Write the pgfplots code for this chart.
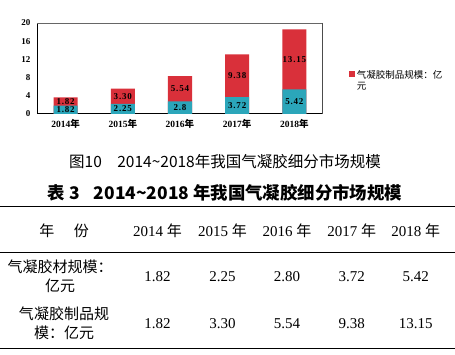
\documentclass[border=0pt]{standalone}
\usepackage{fontspec}
\setmainfont{Liberation Serif}
\newfontfamily\cjk{Noto Sans CJK SC}
\newfontfamily\lblfont[LetterSpace=9]{Liberation Serif}
\usepackage{pgfplots}
\usepackage{pgfplotstable}
\pgfplotsset{compat=1.18}
\definecolor{teal1}{HTML}{2BA6BA}
\definecolor{red1}{HTML}{D9303A}
% x, material, product, total (material+product)
\pgfplotstableread{
x mat prod total
0 1.82 1.82 3.64
1 2.25 3.30 5.55
2 2.80 5.54 8.34
3 3.72 9.38 13.10
4 5.42 13.15 18.57
}\data
\pgfplotstableread{
x y l
0 0.91 1.82
1 1.125 2.25
2 1.40 2.8
3 1.86 3.72
4 2.71 5.42
}\matlab
\pgfplotstableread{
x y l
0 2.73 1.82
1 3.90 3.30
2 5.57 5.54
3 8.41 9.38
4 11.995 13.15
}\prodlab
\begin{document}
\begin{tikzpicture}
\useasboundingbox (0,0) rectangle (455pt,355pt);
\begin{axis}[
  at={(37pt,241pt)}, anchor=south west,
  scale only axis, width=286pt, height=91pt,
  xmin=-0.5, xmax=4.5, ymin=0, ymax=20,
  axis x line=bottom, axis y line=left,
  xtick={0,1,2,3,4},
  xticklabels={2014{\cjk 年},2015{\cjk 年},2016{\cjk 年},2017{\cjk 年},2018{\cjk 年}},
  ytick={0,4,8,12,16,20},
  major tick length=0pt,
  /pgf/number format/assume math mode=true,
  tick label style={font=\fontsize{9}{10}\selectfont\bfseries},
  xticklabel style={yshift=-2pt, font=\fontsize{9.5}{10}\selectfont\bfseries},
  yticklabel style={xshift=-3pt},
  axis line style={-, black, line width=1pt},
  after end axis/.code={
    \draw[black!60, line width=0.6pt] (rel axis cs:0,1) -- (rel axis cs:1,1);
    \draw[black!70, line width=1pt] (rel axis cs:1,1) -- (rel axis cs:1,0);
  },
  legend style={draw=none, fill=none, at={(1.09,0.50)}, anchor=north west, font=\cjk\fontsize{9.5}{11}\selectfont, inner sep=0pt},
  legend image code/.code={\fill[red1] (0pt,-2pt) rectangle (6pt,4pt);},
]
\addplot[ybar, bar width=24pt, bar shift=0pt, fill=red1, draw=none] table[x=x, y=total] {\data};
\addlegendentry{\parbox[t]{95pt}{气凝胶制品规模：亿\\元}}
\addplot[ybar, bar width=24pt, bar shift=0pt, fill=teal1, draw=none, forget plot] table[x=x, y=mat] {\data};
\addplot[only marks, mark=none, forget plot, point meta=explicit symbolic, nodes near coords,
  every node near coord/.style={anchor=center, font=\lblfont\fontsize{9}{10}\selectfont\bfseries, text=black, inner sep=0pt}]
  table[x=x, y=y, meta=l] {\matlab};
\addplot[only marks, mark=none, forget plot, point meta=explicit symbolic, nodes near coords,
  every node near coord/.style={anchor=center, font=\lblfont\fontsize{9}{10}\selectfont\bfseries, text=black, inner sep=0pt}]
  table[x=x, y=y, meta=l] {\prodlab};
\end{axis}
% caption
\node[font=\cjk\fontsize{15.5}{17}\selectfont, anchor=center] at (225pt,193.3pt) {图10\hspace{1em}2014\char"7E 2018年我国气凝胶细分市场规模};
% table title
\node[font=\cjk\bfseries\fontsize{17.4}{19}\selectfont, anchor=center] at (225pt,161.7pt) {表 3\hspace{0.8em}2014\char"7E 2018 年我国气凝胶细分市场规模};
% rules
\draw[line width=1.3pt] (0pt,148.3pt) -- (455pt,148.3pt);
\draw[line width=0.7pt] (0pt,102.7pt) -- (455pt,102.7pt);
\draw[line width=1.3pt] (0pt,6.7pt) -- (455pt,6.7pt);
% table body
\begin{scope}[every node/.style={font=\fontsize{15}{19}\selectfont, anchor=center, inner sep=0pt}]
\node at (64pt,124.3pt) {\cjk 年\hspace{1.3em}份};
\node at (157.5pt,124.3pt) {2014 {\cjk 年}};
\node at (222.5pt,124.3pt) {2015 {\cjk 年}};
\node at (287pt,124.3pt) {2016 {\cjk 年}};
\node at (351.7pt,124.3pt) {2017 {\cjk 年}};
\node at (415.8pt,124.3pt) {2018 {\cjk 年}};
\node[align=center] at (60pt,78.3pt) {\cjk 气凝胶材规模：\\\cjk 亿元};
\node at (157.5pt,78.3pt) {1.82};
\node at (222.5pt,78.3pt) {2.25};
\node at (287pt,78.3pt) {2.80};
\node at (351.7pt,78.3pt) {3.72};
\node at (415.8pt,78.3pt) {5.42};
\node[align=center] at (64pt,31.7pt) {\cjk 气凝胶制品规\\\cjk 模：亿元};
\node at (157.5pt,31.7pt) {1.82};
\node at (222.5pt,31.7pt) {3.30};
\node at (287pt,31.7pt) {5.54};
\node at (351.7pt,31.7pt) {9.38};
\node at (415.8pt,31.7pt) {13.15};
\end{scope}
\end{tikzpicture}
\end{document}
